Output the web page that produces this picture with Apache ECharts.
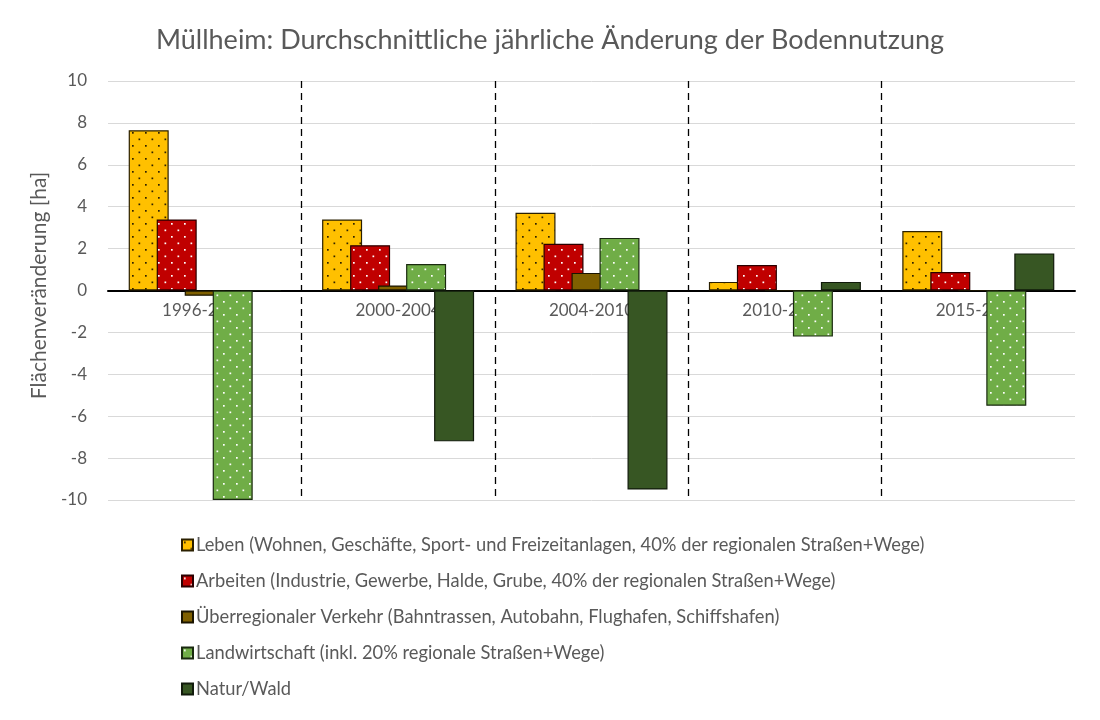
<!DOCTYPE html>
<html><head><meta charset="utf-8">
<script src="https://cdn.jsdelivr.net/npm/echarts@6/dist/echarts.min.js"></script>
<style>html,body{margin:0;padding:0;background:#fff}#c{width:1100px;height:720px}</style>
</head><body><div id="c"></div>
<script>
const categories = ['1996-2000','2000-2004','2004-2010','2010-2015','2015-2019'];
const leben = [7.65, 3.39, 3.71, 0.41, 2.84];
const arbeiten = [3.39, 2.16, 2.23, 1.22, 0.88];
const verkehr = [-0.25, 0.24, 0.84, 0, 0];
const landwirtschaft = [-10, 1.26, 2.51, -2.2, -5.5];
const natur = [0, -7.2, -9.5, 0.41, 1.77];
const seriesNames = [
  'Leben (Wohnen, Geschäfte, Sport- und Freizeitanlagen, 40% der regionalen Straßen+Wege)',
  'Arbeiten (Industrie, Gewerbe, Halde, Grube, 40% der regionalen Straßen+Wege)',
  'Überregionaler Verkehr (Bahntrassen, Autobahn, Flughafen, Schiffshafen)',
  'Landwirtschaft (inkl. 20% regionale Straßen+Wege)',
  'Natur/Wald'
];
const yTicks = [-10,-8,-6,-4,-2,0,2,4,6,8,10];

function pattern(base, dot) {
  const c = document.createElement('canvas');
  c.width = 13; c.height = 13;
  const g = c.getContext('2d');
  g.fillStyle = base; g.fillRect(0,0,13,13);
  if (dot) {
    g.fillStyle = dot;
    g.fillRect(2,2,1.7,1.7);
    g.fillRect(8.5,8.5,1.7,1.7);
  }
  return {image: c, repeat: 'repeat'};
}
const styles = [
  {color: pattern('#FFC000', '#2e2200'), border: '#2b2000'},
  {color: pattern('#C00000', '#ffffff'), border: '#2a0000'},
  {color: '#7F6000', border: '#1a1400'},
  {color: pattern('#70AD47', '#ffffff'), border: '#1a2a10'},
  {color: '#375623', border: '#111a0b'}
];
const datas = [leben, arbeiten, verkehr, landwirtschaft, natur];
const FONT = 'Lato';
const GRID_TOP = 81, GRID_BOTTOM = 220, H = 720;
const zeroOffset = -((H - GRID_BOTTOM) - (GRID_TOP + (H - GRID_BOTTOM - GRID_TOP) / 2));

const chart = echarts.init(document.getElementById('c'), null, {renderer: 'canvas'});
chart.setOption({
  animation: false,
  backgroundColor: '#fff',
  title: {
    text: 'Müllheim: Durchschnittliche jährliche Änderung der Bodennutzung',
    left: 'center', top: 22,
    textStyle: {fontFamily: FONT, fontWeight: 'normal', fontSize: 27, color: '#595959'}
  },
  grid: {left: 108, right: 25, top: GRID_TOP, bottom: GRID_BOTTOM, containLabel: false},
  legend: {
    orient: 'vertical', left: 176, top: 529, itemGap: 14,
    itemWidth: 11, itemHeight: 11, icon: 'rect',
    textStyle: {fontFamily: FONT, fontSize: 18.3, color: '#595959', padding: [0,0,0,-2], lineHeight: 22},
    data: seriesNames
  },
  xAxis: [{
    type: 'category', data: categories, position: 'bottom', offset: zeroOffset,
    axisLine: {onZero: false, lineStyle: {color: '#000', width: 2}},
    axisTick: {show: false},
    axisLabel: {fontFamily: FONT, fontSize: 17, color: '#595959', margin: 12},
    splitLine: {show: false}
  }, {
    type: 'value', min: 0, max: 5, interval: 1, show: true, position: 'top',
    axisLine: {show: false, onZero: false}, axisTick: {show: false}, axisLabel: {show: false},
    splitLine: {show: true, showMinLine: false, showMaxLine: false,
      lineStyle: {color: '#000', width: 1.3, type: [7, 5]}}
  }],
  yAxis: {
    type: 'value', min: -10, max: 10, interval: 2,
    name: 'Flächenveränderung [ha]', nameLocation: 'middle', nameGap: 56,
    nameTextStyle: {fontFamily: FONT, fontSize: 21, color: '#595959', padding: [0, 0, 0, 10]},
    axisLine: {show: false}, axisTick: {show: false},
    axisLabel: {fontFamily: FONT, fontSize: 17, color: '#595959', margin: 21,
      formatter: v => yTicks.includes(v) ? String(v) : ''},
    splitLine: {lineStyle: {color: '#D9D9D9', width: 1}}
  },
  series: datas.map((d, i) => ({
    name: seriesNames[i], type: 'bar', data: d,
    xAxisIndex: 0,
    barWidth: 40, barGap: '-30%', barCategoryGap: '21%',
    itemStyle: {color: styles[i].color, borderColor: styles[i].border, borderWidth: 1.2}
  }))
});
</script></body></html>
